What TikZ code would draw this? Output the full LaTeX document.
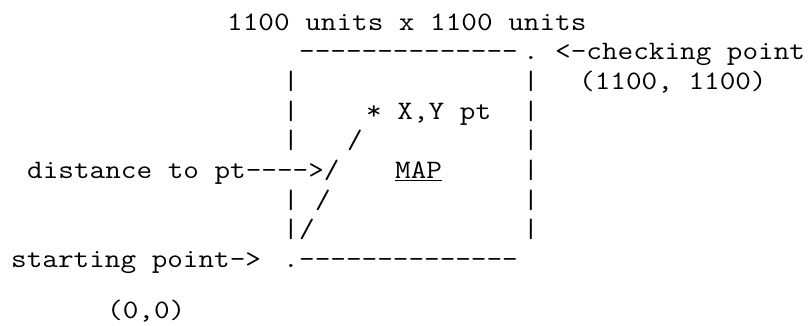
\documentclass[tikz,border=0pt]{standalone}
\usepackage{fontspec}
\setmonofont[FakeStretch=1.14]{Latin Modern Mono}
\usepackage{tikz}

\tikzset{
  ascii/.style={font=\ttfamily\fontsize{26.6}{30}\selectfont, inner sep=0pt, anchor=base west}
}

\begin{document}
\begin{tikzpicture}[x=1pt,y=-1pt]

\useasboundingbox (0,0) rectangle (812,325);

% size of the map
\node[ascii] (title) at (227,30) {1100 units x 1100 units};

% top edge and checking point
\node[ascii] (topedge) at (299,59.7) {--------------};
\node[ascii] (topdot) at (523,59.7) {.};
\node[ascii] (chk) at (555,59.7) {<-checking point};
\node[ascii] (chkxy) at (579,89.4) {(1100, 1100)};

% left and right edges
\node[ascii] (la) at (283,89.4) {|};
\node[ascii] (ra) at (523,89.4) {|};
\node[ascii] (lb) at (283,119.1) {|};
\node[ascii] (rb) at (523,119.1) {|};
\node[ascii] (lc) at (283,148.8) {|};
\node[ascii] (rc) at (523,148.8) {|};
\node[ascii] (rd) at (523,178.5) {|};
\node[ascii] (le) at (283,208.2) {|};
\node[ascii] (re) at (523,208.2) {|};
\node[ascii] (lf) at (283,237.9) {|};
\node[ascii] (rf) at (523,237.9) {|};

% the point and the distance to it
\node[ascii] (xypt) at (366,119.1) {* X,Y pt};
\node[ascii] (sc) at (347,148.8) {/};
\node[ascii] (dist) at (27,178.5) {distance to pt---->/};
\node[ascii] (se) at (315,208.2) {/};
\node[ascii] (sf) at (299,237.9) {/};

% map label
\node[ascii] (map) at (395,178.5) {\underline{MAP}};

% bottom edge and starting point
\node[ascii] (start) at (11,267.6) {starting point->};
\node[ascii] (botdot) at (283,267.6) {.};
\node[ascii] (botedge) at (299,267.6) {--------------};
\node[ascii] (startxy) at (107,318) {(0,0)};

\end{tikzpicture}
\end{document}
